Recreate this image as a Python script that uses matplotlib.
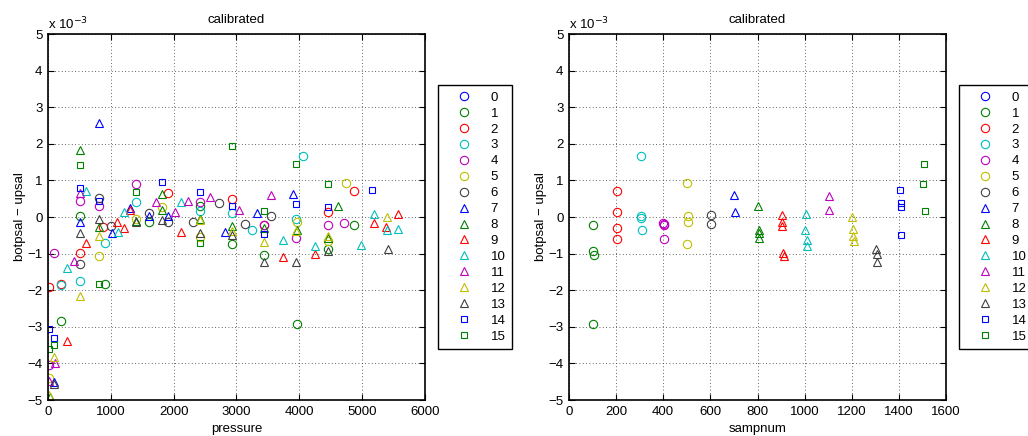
import matplotlib
matplotlib.use("Agg")
import matplotlib.pyplot as plt

plt.rcParams['font.family'] = ['Liberation Sans', 'DejaVu Sans']
plt.rcParams['font.size'] = 9.5

# values in units of 1e-3
series_names = [str(i) for i in range(16)]
colors = ['#0000ff', '#008000', '#ff0000', '#00bfbf', '#bf00bf', '#bfbf00', '#404040',
          '#0000ff', '#008000', '#ff0000', '#00bfbf', '#bf00bf', '#bfbf00', '#404040',
          '#0000ff', '#008000']
markers = ['o'] * 7 + ['^'] * 7 + ['s'] * 2

# left panel: pressure vs. botpsal - upsal
press = [
    [],
    [510, 912, 200, 1607, 2420, 2935, 3443, 3957, 4462, 4870],
    [16, 207, 510, 880, 1910, 2935, 3443, 4462, 4870],
    [207, 510, 912, 1403, 2420, 2935, 3240, 3947, 4054],
    [100, 20, 510, 805, 1403, 2420, 3443, 3947, 4462, 4717],
    [10, 805, 1403, 1815, 2420, 3957, 4462, 4743],
    [510, 805, 1003, 1607, 1915, 2315, 2727, 3140, 3545],
    [810, 510, 1013, 1305, 1607, 1915, 2820, 3330, 3905, 100],
    [510, 805, 1403, 1815, 1815, 2420, 2935, 3443, 3957, 4462, 4621, 30],
    [605, 297, 1103, 1210, 1305, 2110, 3745, 4250, 5190, 5380, 5576],
    [605, 307, 1120, 1215, 2120, 3745, 4250, 4977, 5190, 5390, 5566],
    [510, 415, 116, 20, 1714, 2020, 2230, 2580, 3040, 3545],
    [510, 805, 100, 20, 2420, 2935, 3443, 3947, 4462, 5400],
    [510, 805, 1403, 1815, 2420, 2935, 3443, 3947, 4462, 5418, 100],
    [20, 100, 510, 805, 1815, 2420, 2935, 3443, 3947, 4462, 5152],
    [20, 100, 510, 805, 1403, 2420, 2935, 3443, 3947, 4462],
]
dsal_p = [
    [],
    [0.03, -1.84, -2.83, -0.13, 0.30, -0.74, -1.04, -2.91, -0.88, -0.22],
    [-1.92, -1.83, -0.99, -0.28, 0.65, 0.48, -0.22, 0.15, 0.72],
    [-1.86, -1.76, -0.70, 0.40, 0.17, 0.10, -0.35, -0.05, 1.67],
    [-0.97, -4.05, 0.44, 0.30, 0.91, 0.40, -0.22, -0.58, -0.22, -0.16],
    [-4.40, -1.06, -0.05, 0.27, -0.55, -0.15, -0.65, 0.94],
    [-1.28, 0.51, -0.24, 0.12, -0.15, -0.13, 0.38, -0.20, 0.04],
    [2.57, -0.13, -0.43, 0.24, 0.03, 0.03, -0.40, 0.12, 0.63, -4.50],
    [1.83, -0.28, -0.10, 0.63, 0.20, -0.05, -0.25, -0.31, -0.35, -0.57, 0.30, -4.92],
    [-0.70, -3.38, -0.15, -0.31, 0.20, -0.40, -1.10, -1.01, -0.16, -0.26, 0.08],
    [0.71, -1.40, -0.40, 0.13, 0.42, -0.63, -0.78, -0.76, 0.08, -0.35, -0.33],
    [0.65, -1.20, -3.99, -4.47, 0.40, 0.13, 0.45, 0.55, 0.18, 0.60],
    [-2.17, -0.53, -3.82, -4.85, -0.08, -0.38, -0.67, -0.38, -0.52, 0.01],
    [-0.43, -0.05, -0.15, -0.08, -0.43, -0.49, -1.24, -1.22, -0.94, -0.87, -4.55],
    [-3.06, -3.31, 0.79, 0.44, 0.96, 0.67, 0.30, -0.47, 0.35, 0.28, 0.74],
    [-3.62, -3.49, 1.42, -1.83, 0.67, -0.70, 1.94, 0.17, 1.44, 0.90],
]

# right panel: sample number vs. botpsal - upsal
sampnum = [
    [],
    [100, 100, 106, 102],
    [202, 204, 204, 204],
    [304, 305, 305, 308],
    [400, 403, 402, 403],
    [502, 506, 506, 502],
    [602, 602],
    [702, 705],
    [800, 805, 807, 805],
    [904, 906, 906, 910, 913],
    [1007, 1003, 1010, 1010],
    [1105, 1105],
    [1199, 1206, 1205, 1210],
    [1304, 1306, 1308],
    [1403, 1407, 1407, 1410],
    [1506, 1504, 1509],
]
dsal_s = [
    [],
    [-0.22, -0.92, -1.03, -2.91],
    [0.72, 0.15, -0.30, -0.60],
    [1.67, 0.03, -0.03, -0.36],
    [-0.16, -0.22, -0.19, -0.60],
    [0.92, 0.04, -0.15, -0.73],
    [0.06, -0.20],
    [0.60, 0.13],
    [0.30, -0.35, -0.43, -0.58],
    [0.05, -0.14, -0.25, -0.99, -1.06],
    [0.08, -0.35, -0.63, -0.78],
    [0.57, 0.19],
    [0.01, -0.33, -0.53, -0.65],
    [-0.88, -1.00, -1.22],
    [0.74, 0.39, 0.28, -0.48],
    [1.45, 0.89, 0.17],
]

fig = plt.figure(figsize=(10.28, 4.36), dpi=100)
ax1 = fig.add_axes([48 / 1028, 36 / 436, 377 / 1028, 366 / 436])
ax2 = fig.add_axes([569 / 1028, 36 / 436, 377 / 1028, 366 / 436])

panels = [(ax1, press, dsal_p, 'pressure', (0, 6000), range(0, 6001, 1000)),
          (ax2, sampnum, dsal_s, 'sampnum', (0, 1600), range(0, 1601, 200))]

for ax, xs, ys, xlabel, xlim, xticks in panels:
    for i in range(16):
        ms = 5.0 if markers[i] == 's' else 6.0
        ax.plot(xs[i], ys[i], linestyle='none', marker=markers[i], ms=ms,
                mfc='none', mec=colors[i], mew=0.8, label=series_names[i])
    ax.set_xlim(*xlim)
    ax.set_ylim(-5, 5)
    ax.set_xticks(list(xticks))
    ax.set_yticks(range(-5, 6))
    ax.grid(True, color='#333333', linestyle=(0, (1, 3)), linewidth=0.6)
    ax.tick_params(direction='in', top=True, right=True, length=4, width=0.8, pad=4)
    for sp in ax.spines.values():
        sp.set_linewidth(1.2)
    ax.set_xlabel(xlabel, labelpad=4)
    ax.set_ylabel('botpsal \u2212 upsal', labelpad=1)
    ax.set_title('calibrated', fontsize=9.5, pad=8)
    ax.text(0, 1.005, 'x 10$^{-3}$', transform=ax.transAxes, ha='left', va='bottom')
    leg = ax.legend(loc='upper left', bbox_to_anchor=(1.034, 0.861), borderaxespad=0,
                    fancybox=False, edgecolor='black', framealpha=1,
                    handlelength=3.0, handletextpad=0.5, labelspacing=0.28,
                    borderpad=0.5, fontsize=9.5)
    leg.get_frame().set_linewidth(1.0)

fig.savefig('out.png', dpi=100)
